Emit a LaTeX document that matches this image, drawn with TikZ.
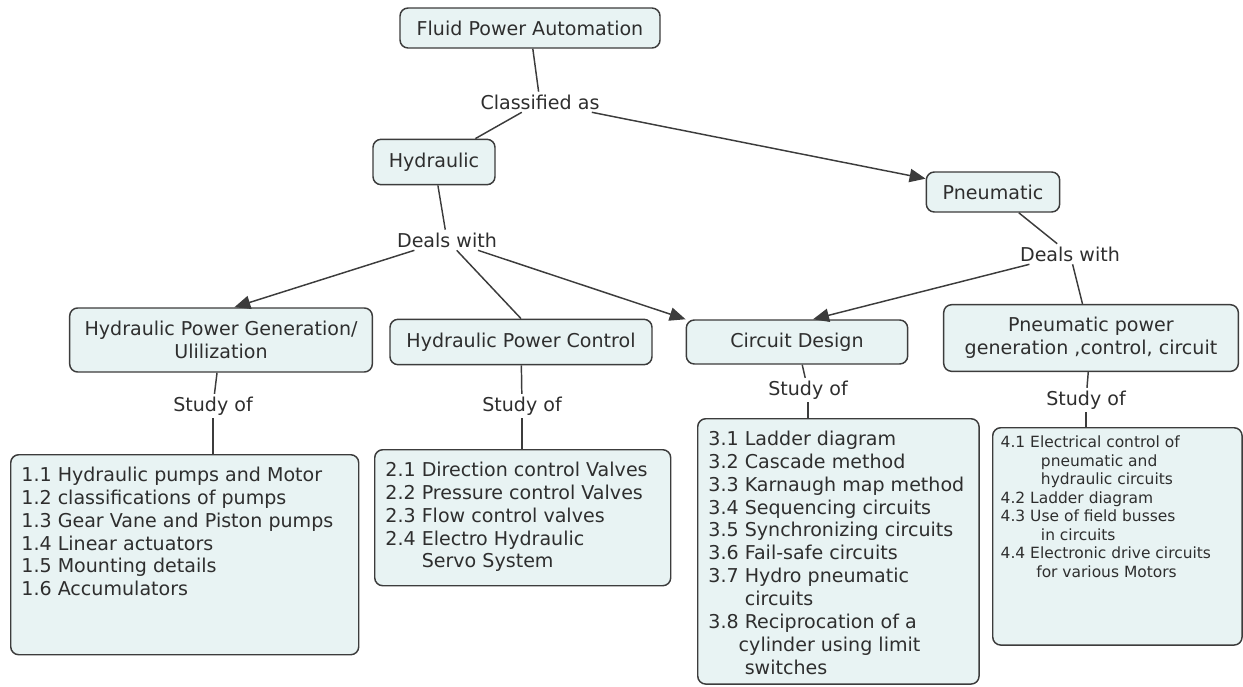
\documentclass[tikz,border=0pt]{standalone}
\usepackage{fontspec}
\setmainfont{DejaVu Sans}
\usetikzlibrary{arrows.meta}
\definecolor{mapline}{HTML}{3C3C3C}
\definecolor{mapfill}{HTML}{E8F3F3}
\definecolor{mapink}{HTML}{2E2E2E}
\newcommand{\maptext}{\fontsize{14.3}{17.2}\selectfont}
\newcommand{\smalltext}{\fontsize{11.6}{13.9}\selectfont}

\begin{document}
\begin{tikzpicture}[x=0.75pt,y=-0.75pt,
  topic/.style={draw=mapline, line width=1.1pt, rounded corners=6pt, rectangle, fill=mapfill, text=mapink, font=\maptext, align=center, inner sep=3pt},
  listbox/.style={topic, anchor=north west, align=left, inner xsep=8pt, inner ysep=9pt},
  phrase/.style={text=mapink, font=\maptext, inner sep=2pt},
  link/.style={draw=mapline, line width=1.1pt},
  arrow/.style={link, -{Triangle[length=12pt,width=10pt]}}]
\useasboundingbox (0,0) rectangle (1243,686);
% concepts and linking phrases
\node[topic, minimum width=195pt, minimum height=30pt] (fpa) at (530,28)  {Fluid Power Automation};
\node[phrase] (cls) at (540,102) {Classified as};
\node[topic, minimum width=91.5pt, minimum height=34pt] (hyd) at (434,162) {Hydraulic};
\node[topic, minimum width=100pt, minimum height=30pt] (pne) at (993,192) {Pneumatic};
\node[phrase] (dl) at (447,240) {Deals with};
\node[phrase] (dr) at (1070,254) {Deals with};
\node[topic, minimum width=227pt, minimum height=48pt] (hpg) at (221,340) {Hydraulic Power Generation/\\Ulilization};
\node[topic, minimum width=196.5pt, minimum height=34pt] (hpc) at (521,342) {Hydraulic Power Control};
\node[topic, minimum width=166pt, minimum height=33pt] (cd) at (797,342) {Circuit Design};
\node[topic, minimum width=221pt, minimum height=50pt] (ppg) at (1091,338) {Pneumatic power\\generation ,control, circuit};
\node[phrase] (s1) at (213,406) {Study of};
\node[phrase] (s2) at (522,406) {Study of};
\node[phrase] (s3) at (808,390) {Study of};
\node[phrase] (s4) at (1086,400) {Study of};
% topic lists
\node[listbox] (l1) at (10,454) {\parbox[t][132pt][t]{245pt}{%
1.1 Hydraulic pumps and Motor\\
1.2 classifications of pumps\\
1.3 Gear Vane and Piston pumps\\
1.4 Linear actuators\\
1.5 Mounting details\\
1.6 Accumulators}};
\node[listbox] (l2) at (374,449) {\parbox[t][84pt][t]{206pt}{%
2.1 Direction control Valves\\
2.2 Pressure control Valves\\
2.3 Flow control valves\\
2.4 Electro Hydraulic\\
\phantom{2.4 }Servo System}};
\node[listbox] (l3) at (697,418) {\parbox[t][181pt][t]{195pt}{%
3.1 Ladder diagram\\
3.2 Cascade method\\
3.3 Karnaugh map method\\
3.4 Sequencing circuits\\
3.5 Synchronizing circuits\\
3.6 Fail-safe circuits\\
3.7 Hydro pneumatic\\
\phantom{3.7 }circuits\\
3.8 Reciprocation of a\\
\phantom{3.8}cylinder using limit\\
\phantom{3.8 }switches}};
\node[listbox, inner xsep=6pt, inner ysep=6pt] (l4) at (992,427) {\parbox[t][151pt][t]{175pt}{\smalltext
4.1 Electrical control of\\
\hspace*{2.6em}pneumatic and\\
\hspace*{2.6em}hydraulic circuits\\
4.2 Ladder diagram\\
4.3 Use of field busses\\
\hspace*{2.6em}in circuits\\
4.4 Electronic drive circuits\\
\hspace*{2.3em}for various Motors}};
% connectors
\draw[link]  (fpa) -- (cls);
\draw[link]  (cls) -- (hyd);
\draw[arrow] (cls) -- (pne);
\draw[link]  (hyd) -- (dl);
\draw[arrow] (dl) -- ([xshift=10pt]hpg.north);
\draw[link]  (dl) -- (hpc.north);
\draw[arrow] (dl) -- (cd.north west);
\draw[link]  (pne) -- (dr);
\draw[arrow] (dr) -- ([xshift=12pt]cd.north);
\draw[link]  (dr) -- (ppg);
\draw[link]  (hpg) -- (s1);
\draw[link]  (s1) -- (s1 |- l1.north);
\draw[link]  (hpc) -- (s2);
\draw[link]  (s2) -- (s2 |- l2.north);
\draw[link]  (cd) -- (s3);
\draw[link]  (s3) -- (s3 |- l3.north);
\draw[link]  (ppg) -- (s4);
\draw[link]  (s4) -- (s4 |- l4.north);
\end{tikzpicture}
\end{document}
